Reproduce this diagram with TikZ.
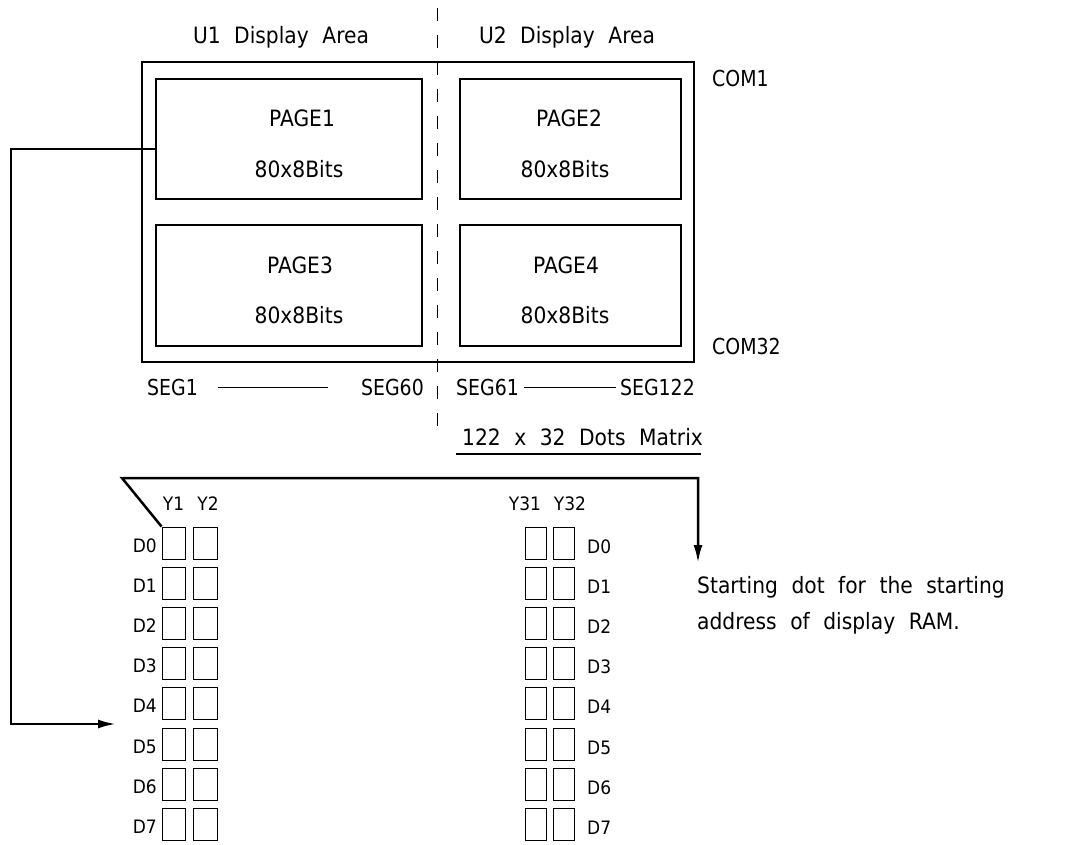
\documentclass[tikz,border=0pt]{standalone}
\usepackage{fontspec}
\setmainfont{DejaVu Sans}[WordSpace=2.1,FakeStretch=0.9]
\newfontfamily\smallf{DejaVu Sans}[FakeStretch=0.92]
\newfontfamily\segf{DejaVu Sans}[FakeStretch=0.86]
\usetikzlibrary{arrows.meta}
\begin{document}
\begin{tikzpicture}[x=1pt,y=-1pt,
  outerbox/.style={draw,line width=2.8pt,minimum width=552pt,minimum height=300pt,inner sep=0pt},
  pagebox/.style={draw,line width=2.8pt,inner sep=0pt},
  cell/.style={draw,line width=1pt,minimum height=32pt,inner sep=0pt},
  lbl/.style={inner sep=0pt,font=\fontsize{22.5}{26}\selectfont},
  seglbl/.style={inner sep=0pt,font=\segf\fontsize{22}{26}\selectfont},
  slbl/.style={inner sep=0pt,font=\smallf\fontsize{18.5}{22}\selectfont},
  conn/.style={line width=2.5pt},
  thinline/.style={line width=1pt}]
\useasboundingbox (0,0) rectangle (1077,844);

% outer frame and page boxes
\node[outerbox] (outer) at (418,212) {};
\node[pagebox,minimum width=266pt,minimum height=120pt] (p1) at (289,139) {};
\node[pagebox,minimum width=221pt,minimum height=120pt] (p2) at (570.5,139) {};
\node[pagebox,minimum width=266pt,minimum height=121pt] (p3) at (289,285.5) {};
\node[pagebox,minimum width=221pt,minimum height=121pt] (p4) at (570.5,285.5) {};

% dashed divider
\coordinate (dtop) at (437,8);
\coordinate (dbot) at (437,428);
\draw[thinline,dash pattern=on 13pt off 14pt] (dtop) -- (dbot);

% titles
\node[lbl,anchor=base] (u1) at (281,43) {U1 Display Area};
\node[lbl,anchor=base] (u2) at (567,43) {U2 Display Area};
\node[seglbl,anchor=base west] (com1) at (712,86) {COM1};
\node[seglbl,anchor=base west] (com32) at (712,354) {COM32};

% page texts
\node[lbl,anchor=base] (t1a) at (302,126) {PAGE1};
\node[lbl,anchor=base] (t1b) at (299,177) {80x8Bits};
\node[lbl,anchor=base] (t2a) at (569,126) {PAGE2};
\node[lbl,anchor=base] (t2b) at (565,177) {80x8Bits};
\node[lbl,anchor=base] (t3a) at (300,273) {PAGE3};
\node[lbl,anchor=base] (t3b) at (299,323) {80x8Bits};
\node[lbl,anchor=base] (t4a) at (566,273) {PAGE4};
\node[lbl,anchor=base] (t4b) at (565,323) {80x8Bits};

% SEG labels
\node[seglbl,anchor=base west] (seg1) at (147,395) {SEG1};
\node[seglbl,anchor=base east] (seg60) at (424,395) {SEG60};
\node[seglbl,anchor=base west] (seg61) at (456,395) {SEG61};
\node[seglbl,anchor=base east] (seg122) at (695,395) {SEG122};
\draw[thinline] (218,387.5) -- (328,387.5);
\draw[thinline] (524,387.5) -- (616,387.5);

% dots matrix label
\node[lbl,anchor=base west] (dm) at (462,445) {122 x 32 Dots Matrix};
\draw[line width=2pt] (456,454) -- (701,454);

% cells
\foreach \k in {0,...,7} {
  \pgfmathsetmacro{\cy}{543+40.2*\k}
  \node[cell,minimum width=23pt] (La\k) at (173.5,\cy) {};
  \node[cell,minimum width=24pt] (Lb\k) at (205,\cy) {};
  \node[cell,minimum width=21pt] (Ra\k) at (535.5,\cy) {};
  \node[cell,minimum width=21pt] (Rb\k) at (563.5,\cy) {};
  \node[slbl,anchor=base east] (DL\k) at (157,\cy+9) {D\k};
  \node[slbl,anchor=base west] (DR\k) at (587,\cy+10) {D\k};
}
\node[slbl,anchor=base] (y1) at (173.5,510) {Y1};
\node[slbl,anchor=base] (y2) at (208,510) {Y2};
\node[slbl,anchor=base] (y31) at (525,510) {Y31};
\node[slbl,anchor=base] (y32) at (570,510) {Y32};

% starting dot text
\node[lbl,anchor=base west] (sd1) at (697,593) {Starting dot for the starting};
\node[lbl,anchor=base west] (sd2) at (697,629) {address of display RAM.};

% connectors
\coordinate (j1) at (156,149);
\coordinate (tipL) at (116,724);
\draw[conn,-{Latex[length=18pt,width=9pt]}] (j1) -- (11,149) -- (11,724) -- (tipL);
\coordinate (tipR) at (698,563);
\draw[conn,-{Latex[length=18pt,width=9pt]}] (La0.north west) -- (122,478) -- (698,478) -- (tipR);
\end{tikzpicture}
\end{document}
